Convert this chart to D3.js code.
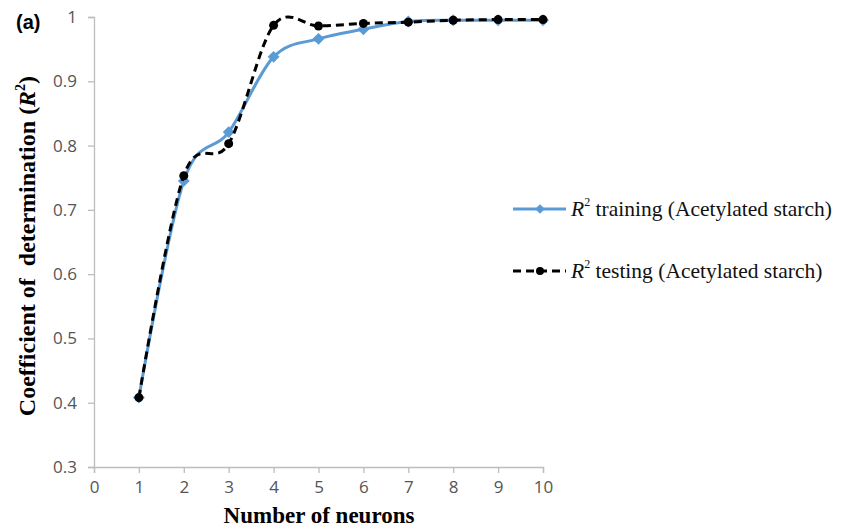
<!DOCTYPE html>
<html>
<head>
<meta charset="utf-8">
<script src="https://cdn.jsdelivr.net/npm/d3@7"></script>
<style>
  body { margin: 0; background: #fff; }
</style>
</head>
<body>
<div id="chart"></div>
<script>
// data
const neurons = [1, 2, 3, 4, 5, 6, 7, 8, 9, 10];
const r2_training = [0.408, 0.745, 0.821, 0.938, 0.966, 0.981, 0.993, 0.995, 0.995, 0.995];
const r2_testing = [0.408, 0.753, 0.803, 0.987, 0.986, 0.990, 0.992, 0.995, 0.996, 0.996];
const x_ticks = [0, 1, 2, 3, 4, 5, 6, 7, 8, 9, 10];
const y_ticks = [0.3, 0.4, 0.5, 0.6, 0.7, 0.8, 0.9, 1];

const width = 848;
const height = 531;
const margin = { top: 17, left: 94, right: 305, bottom: 64 };

const svg = d3.select("#chart")
    .append("svg")
    .attr("width", width)
    .attr("height", height);

const x = d3.scaleLinear()
    .domain([0, 10])
    .range([margin.left, width - margin.right]);

const y = d3.scaleLinear()
    .domain([0.3, 1])
    .range([height - margin.bottom, margin.top]);

// axes
const xAxis = svg.append("g")
    .attr("transform", "translate(0," + (height - margin.bottom) + ")")
    .call(d3.axisBottom(x).tickValues(x_ticks).tickSize(6).tickPadding(8).tickFormat(d3.format("d")));

const yAxis = svg.append("g")
    .attr("transform", "translate(" + margin.left + ",0)")
    .call(d3.axisLeft(y).tickValues(y_ticks).tickSize(6).tickPadding(11).tickFormat(d => d === 1 ? "1" : d3.format(".1f")(d)));

[xAxis, yAxis].forEach(a => {
    a.select(".domain").attr("stroke", "#bdbdbd").attr("stroke-width", 1.3);
    a.selectAll(".tick line").attr("stroke", "#bdbdbd").attr("stroke-width", 1.3);
    a.selectAll(".tick text")
        .attr("fill", "#555")
        .attr("font-family", "Open Sans, Calibri, sans-serif")
        .attr("font-size", "17px");
});

// lines
const line = (vals) => d3.line()
    .x((d, i) => x(neurons[i]))
    .y(d => y(d))
    .curve(d3.curveCardinal.tension(0))(vals);

const blue = "#5B9BD5";

svg.append("path")
    .attr("d", line(r2_training))
    .attr("fill", "none")
    .attr("stroke", blue)
    .attr("stroke-width", 3);

svg.selectAll(".train-mark")
    .data(r2_training)
    .enter()
    .append("path")
    .attr("class", "train-mark")
    .attr("transform", (d, i) => "translate(" + x(neurons[i]) + "," + y(d) + ")")
    .attr("d", d3.symbol().type(d3.symbolDiamond2).size(90))
    .attr("fill", blue);

svg.append("path")
    .attr("d", line(r2_testing))
    .attr("fill", "none")
    .attr("stroke", "#000")
    .attr("stroke-width", 3)
    .attr("stroke-dasharray", "8,5");

svg.selectAll(".test-mark")
    .data(r2_testing)
    .enter()
    .append("circle")
    .attr("class", "test-mark")
    .attr("cx", (d, i) => x(neurons[i]))
    .attr("cy", d => y(d))
    .attr("r", 4.5)
    .attr("fill", "#000");

// axis titles
svg.append("text")
    .attr("x", 319)
    .attr("y", 523)
    .attr("text-anchor", "middle")
    .attr("font-family", "Liberation Serif, Times New Roman, serif")
    .attr("font-weight", "bold")
    .attr("font-size", "23px")
    .text("Number of neurons");

const yTitle = svg.append("text")
    .attr("transform", "translate(35," + 246 + ") rotate(-90)")
    .attr("text-anchor", "middle")
    .style("white-space", "pre")
    .attr("font-family", "Liberation Serif, Times New Roman, serif")
    .attr("font-weight", "bold")
    .attr("font-size", "24px");
yTitle.append("tspan").text("Coefficient of  determination (");
yTitle.append("tspan").attr("font-style", "italic").text("R");
yTitle.append("tspan").attr("font-size", "14px").attr("dy", -10).text("2");
yTitle.append("tspan").attr("dy", 10).text(")");

svg.append("text")
    .attr("x", 16)
    .attr("y", 29)
    .attr("font-family", "Liberation Sans, Arial, sans-serif")
    .attr("font-weight", "bold")
    .attr("font-size", "20px")
    .text("(a)");

// legend
const legend = [
    { label: " training (Acetylated starch)", y: 209, color: blue, dash: null, mark: "diamond" },
    { label: " testing (Acetylated starch)", y: 271, color: "#000", dash: "8,5", mark: "circle" }
];

legend.forEach(l => {
    svg.append("line")
        .attr("x1", 513).attr("x2", 566)
        .attr("y1", l.y).attr("y2", l.y)
        .attr("stroke", l.color)
        .attr("stroke-width", 3)
        .attr("stroke-dasharray", l.dash);
    if (l.mark === "diamond") {
        svg.append("path")
            .attr("transform", "translate(540," + l.y + ")")
            .attr("d", d3.symbol().type(d3.symbolDiamond2).size(60))
            .attr("fill", l.color);
    } else {
        svg.append("circle")
            .attr("cx", 540).attr("cy", l.y).attr("r", 4)
            .attr("fill", l.color);
    }
    const t = svg.append("text")
        .attr("x", 571)
        .attr("y", l.y + 7)
        .attr("font-family", "Liberation Serif, Times New Roman, serif")
        .attr("font-size", "21.5px")
        .attr("fill", "#111");
    t.append("tspan").attr("font-style", "italic").text("R");
    t.append("tspan").attr("font-size", "12px").attr("dy", -10).text("2");
    t.append("tspan").attr("dy", 10).text(l.label);
});
</script>
</body>
</html>
